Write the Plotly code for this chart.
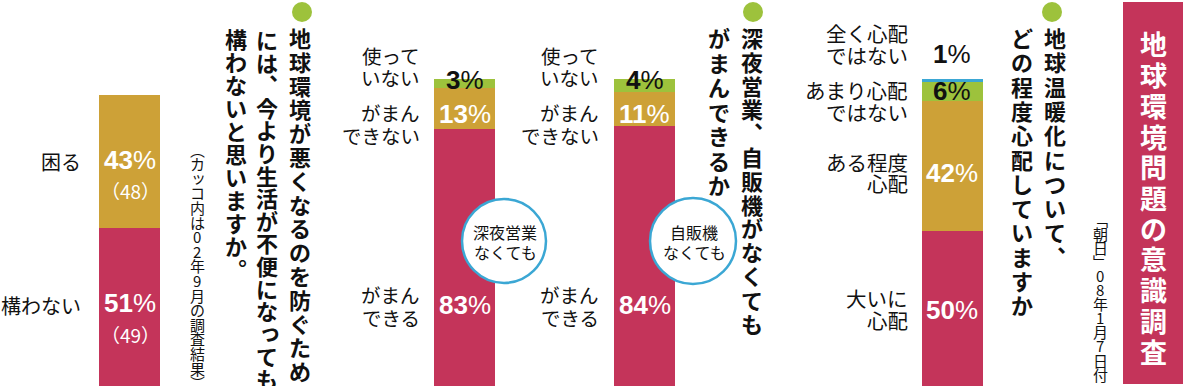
import plotly.graph_objects as go

# ---------------- data ----------------
title_text = "地球環境問題の意識調査"
source_text = "「朝日」08年1月7日付"

# Q1: global warming concern
q1_question = ["地球温暖化について、", "どの程度心配していますか"]
q1_labels = [["大いに", "心配"], ["ある程度", "心配"], ["あまり心配", "ではない"], ["全く心配", "ではない"]]
q1_values = [50, 42, 6, 1]

# Q2: late-night business / vending machines
q2_question = ["深夜営業、自販機がなくても", "がまんできるか"]
q2_labels = [["がまん", "できる"], ["がまん", "できない"], ["使って", "いない"]]
latenight_values = [83, 13, 3]
vending_values = [84, 11, 4]
latenight_badge = ["深夜営業", "なくても"]
vending_badge = ["自販機", "なくても"]

# Q3: accept inconvenience
q3_question = ["地球環境が悪くなるのを防ぐため", "には、今より生活が不便になっても", "構わないと思いますか。"]
q3_note = "（カッコ内は02年9月の調査結果）"
q3_labels = [["構わない"], ["困る"]]
q3_values = [51, 43]
q3_prev_values = [49, 48]

# ---------------- style / layout ----------------
W, H = 1183, 386
PX_PER_PCT = 3.1
RED, GOLD, GREEN, BLUE = "#C4345A", "#CDA137", "#9DC23C", "#3BA7D4"
CJK = "Noto Sans CJK JP"
NUM = "Liberation Sans"
BAR_W = 61

fig = go.Figure()
annotations = []
shapes = []


def px(x, y):
    return x / W, 1 - y / H


def add_text(text, x, y, size, color="#111", family=CJK, xanchor="center", bold=False, xshift=0, yshift=0):
    xp, yp = px(x, y)
    annotations.append(dict(
        x=xp, y=yp, xref="paper", yref="paper", showarrow=False,
        text=f"<b>{text}</b>" if bold else text,
        xanchor=xanchor, yanchor="middle", xshift=xshift, yshift=yshift,
        font=dict(family=family, size=size, color=color)))


VERT = {"、": "︑", "。": "︒", "「": "﹁", "」": "﹂", "（": "︵", "）": "︶"}
SMALL = set("っッゃゅょャュョ")


def vtext(s, x, y0, pitch, size, color="#111", bold=False):
    for i, ch in enumerate(s):
        c = VERT.get(ch, ch)
        xs, ys = (size * 0.12, size * 0.12) if ch in SMALL else (0, 0)
        add_text(c, x, y0 + i * pitch, size, color=color, bold=bold, xshift=xs, yshift=ys)


def lines(texts, x, y0, pitch, size, color="#111", xanchor="right"):
    for i, t in enumerate(texts):
        add_text(t, x, y0 + i * pitch, size, color=color, xanchor=xanchor)


def pct(v, x, y, color, size=26):
    add_text(f"<b>{v}</b>%", x, y, size, color=color, family=NUM)


def dot(x, y, r=10):
    shapes.append(dict(type="circle", xref="paper", yref="paper",
                       x0=(x - r) / W, x1=(x + r) / W, y0=1 - (y + r) / H, y1=1 - (y - r) / H,
                       fillcolor=GREEN, line=dict(width=0)))


def stacked(xc, values, colors, names):
    for v, c, n in zip(values, colors, names):
        fig.add_trace(go.Bar(x=[xc], y=[v], width=BAR_W, marker=dict(color=c, line=dict(width=0)),
                             name=n, showlegend=False, hoverinfo="skip"))


# bars
stacked(952, q1_values, [RED, GOLD, GREEN, BLUE], ["".join(l) for l in q1_labels])
stacked(644.5, vending_values, [RED, GOLD, GREEN], ["".join(l) for l in q2_labels])
stacked(464.5, latenight_values, [RED, GOLD, GREEN], ["".join(l) for l in q2_labels])
stacked(129.5, q3_values, [RED, GOLD], ["".join(l) for l in q3_labels])

# title box
shapes.append(dict(type="rect", xref="paper", yref="paper", x0=1123 / W, x1=1183 / W,
                   y0=1 - 384 / H, y1=1 - 2 / H, fillcolor=RED, line=dict(width=0), layer="below"))
vtext(title_text, 1153, 44, 30.7, 27, color="white", bold=True)
vtext(source_text, 1100, 219, 14.1, 15)

# Q1 question + labels
dot(1052, 12)
vtext(q1_question[0], 1055, 37, 24.3, 22, bold=True)
vtext(q1_question[1], 1022, 37, 24.3, 22, bold=True)
lines(q1_labels[3], 910, 33, 22, 20.5)
lines(q1_labels[2], 910, 90, 22, 20.5)
lines(q1_labels[1], 910, 162, 21, 20.5)
lines(q1_labels[0], 910, 298, 22, 20.5)
pct(q1_values[3], 952, 54, "#111")
pct(q1_values[2], 952, 91, "#111")
pct(q1_values[1], 952, 173, "white")
pct(q1_values[0], 952, 310, "white")

# Q2 question
dot(753, 12)
vtext(q2_question[0], 752, 37, 23.8, 22, bold=True)
vtext(q2_question[1], 719, 37, 24.5, 22, bold=True)

# Q2 panels (vending machines, late-night business)
for xr, xc, vals in [(601, 644.5, vending_values), (422, 464.5, latenight_values)]:
    lines(q2_labels[2], xr, 55, 22, 19.5)
    lines(q2_labels[1], xr, 113, 22, 19.5)
    lines(q2_labels[0], xr, 294, 23, 19.5)
    pct(vals[2], xc, 80, "#111")
    pct(vals[1], xc, 114, "white")
    pct(vals[0], xc, 305, "white")

for (cx, cy, r), badge in [((693, 241, 43), vending_badge), ((504, 241, 42), latenight_badge)]:
    shapes.append(dict(type="circle", xref="paper", yref="paper",
                       x0=(cx - r) / W, x1=(cx + r) / W, y0=1 - (cy + r) / H, y1=1 - (cy - r) / H,
                       fillcolor="white", line=dict(color=BLUE, width=2.5)))
    lines(badge, cx + 1, 232, 20, 16, xanchor="center")

# Q3 question
dot(302, 12)
vtext(q3_question[0], 300, 37, 23.8, 22, bold=True)
vtext(q3_question[1], 267, 39, 22.6, 22, bold=True)
vtext(q3_question[2], 236, 38, 23, 22, bold=True)
vtext(q3_note, 197, 149, 14.6, 15)

lines(q3_labels[1], 83, 162, 0, 20)
lines(q3_labels[0], 83, 305, 0, 20)
pct(q3_values[1], 130, 160, "white")
add_text(f"（{q3_prev_values[1]}）", 130, 190, 19, color="white")
pct(q3_values[0], 130, 303, "white")
add_text(f"（{q3_prev_values[0]}）", 130, 334, 19, color="white")

fig.update_layout(
    width=W, height=H, margin=dict(l=0, r=0, t=0, b=0),
    paper_bgcolor="white", plot_bgcolor="white",
    barmode="stack", bargap=0,
    xaxis=dict(range=[0, W], visible=False, fixedrange=True),
    yaxis=dict(range=[0, H / PX_PER_PCT], visible=False, fixedrange=True),
    annotations=annotations, shapes=shapes, showlegend=False,
)
fig.write_html("out.html", config={"displayModeBar": False},
               post_script="document.body.style.margin='0';document.body.style.overflow='hidden';")
